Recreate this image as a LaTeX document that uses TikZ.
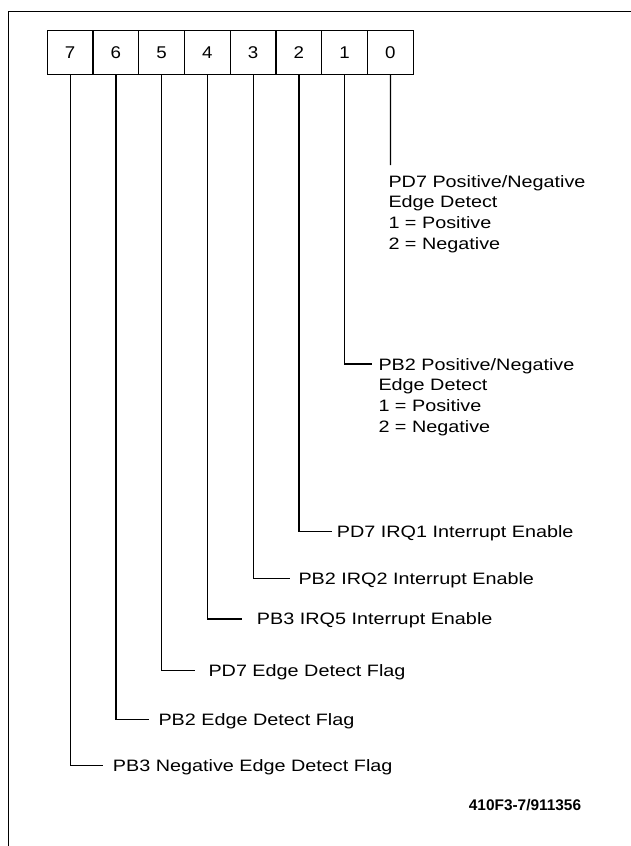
\documentclass[tikz,border=0pt]{standalone}
\usepackage{fontspec}
\setmainfont{Liberation Sans}
\newfontfamily\lblfont{Liberation Sans}[FakeStretch=1.2]
\newfontfamily\numfont{Liberation Sans}[FakeStretch=1.1]
\newfontfamily\footfont{Liberation Sans}
\begin{document}
\begin{tikzpicture}[x=1pt,y=-1pt,
  bitbox/.style={draw,line width=1.3pt,minimum width=45.75pt,minimum height=43.8pt,inner sep=0pt,
    font=\numfont\fontsize{17}{17}\selectfont},
  lead/.style={line width=1.2pt},
  lbl/.style={anchor=west,inner sep=0pt,text height=11.8pt,text depth=0pt,
    font=\lblfont\fontsize{16.5}{20.7}\selectfont},
  multi/.style={anchor=north west,inner sep=0pt,align=left,
    font=\lblfont\fontsize{16.5}{20.7}\selectfont},
  foot/.style={inner sep=0pt,font=\footfont\bfseries\fontsize{15.4}{15.4}\selectfont}
]
\useasboundingbox (0,0) rectangle (631,846);
% frame
\draw[line width=1.1pt] (631,11.7) -- (8.3,11.7) -- (8.3,846);
% register boxes
\foreach \b [count=\i from 0] in {7,6,5,4,3,2,1,0}
  \node[bitbox] (b\b) at ({47.3+45.75*\i+22.875},52.4) {\b};
% bit 0
\coordinate (e0) at (390.4,165);
\node[multi] (t0) at (388.3,175) {PD7 Positive/Negative\\Edge Detect\\1 = Positive\\2 = Negative};
\draw[lead] (b0.south) -- (e0);
% bit 1
\coordinate (e1) at (371.7,364);
\node[multi] (t1) at (378.3,358) {PB2 Positive/Negative\\Edge Detect\\1 = Positive\\2 = Negative};
\draw[lead] (b1.south) |- (e1);
% single-line labels
\node[lbl] (t2) at (336.7,531.7) {PD7 IRQ1 Interrupt Enable};
\node[lbl] (t3) at (298.3,578.3) {PB2 IRQ2 Interrupt Enable};
\node[lbl] (t4) at (256.7,619) {PB3 IRQ5 Interrupt Enable};
\node[lbl] (t5) at (208.3,670.7) {PD7 Edge Detect Flag};
\node[lbl] (t6) at (158.3,719.3) {PB2 Edge Detect Flag};
\node[lbl] (t7) at (112.7,765.7) {PB3 Negative Edge Detect Flag};
\draw[lead,shorten >=5pt] (b2.south) |- (t2.west);
\draw[lead,shorten >=8.3pt] (b3.south) |- (t3.west);
\draw[lead,shorten >=14.7pt] (b4.south) |- (t4.west);
\draw[lead,shorten >=13.3pt] (b5.south) |- (t5.west);
\draw[lead,shorten >=9pt] (b6.south) |- (t6.west);
\draw[lead,shorten >=10pt] (b7.south) |- (t7.west);
% footer
\node[foot] (ft) at (525,805) {410F3-7/911356};
\end{tikzpicture}
\end{document}
